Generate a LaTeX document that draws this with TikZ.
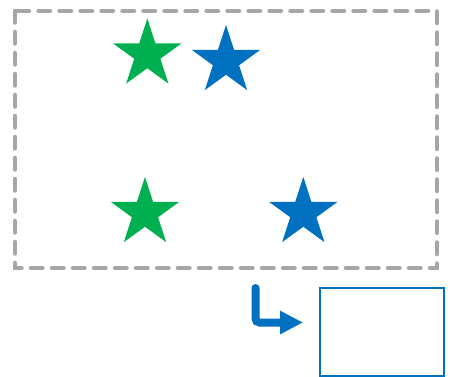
\documentclass[tikz,border=0pt]{standalone}
\usetikzlibrary{shapes.geometric,arrows.meta}
\definecolor{myblue}{HTML}{0070C0}
\definecolor{mygreen}{HTML}{00B050}
\definecolor{mygray}{HTML}{A6A6A6}
\begin{document}
\begin{tikzpicture}[x=1pt,y=-1pt,
  starshape/.style={star,star points=5,star point ratio=2.618,minimum size=72pt,inner sep=0pt,draw=none},
  greenstar/.style={starshape,fill=mygreen},
  bluestar/.style={starshape,fill=myblue},
  framebox/.style={draw=mygray,line width=4.5pt,line cap=round,dash pattern=on 11.5pt off 9.5pt},
  targetbox/.style={draw=myblue,line width=2pt,minimum width=124pt,minimum height=88pt,inner sep=0pt,anchor=north west},
  flowarrow/.style={draw=myblue,line width=8pt,line cap=round,rounded corners=4pt,-{Triangle[length=23pt,width=22pt]}}]
\useasboundingbox (0,0) rectangle (450,377);
\draw[framebox] (15,11) rectangle (437,268);
\node[greenstar] (g1) at (147.3,54.5) {};
\node[bluestar] (b1) at (226,61) {};
\node[greenstar] (g2) at (145,213) {};
\node[bluestar] (b2) at (303.3,213) {};
\node[targetbox] (t) at (319,287) {};
\coordinate (s) at (255.5,288);
\coordinate (e) at (303,322.5);
\draw[flowarrow] (s) |- (e);
\end{tikzpicture}
\end{document}
